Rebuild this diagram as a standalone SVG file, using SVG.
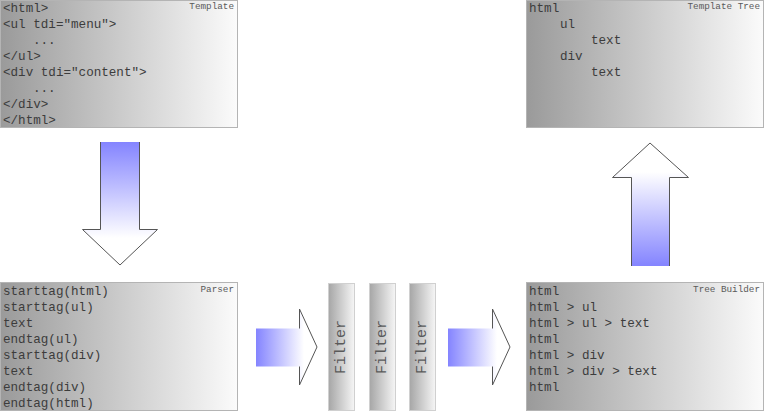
<svg xmlns="http://www.w3.org/2000/svg" width="764" height="411" viewBox="0 0 764 411">
<defs>
<linearGradient id="boxg" x1="0" y1="0" x2="1" y2="0">
<stop offset="0" stop-color="#9a9a9a"/>
<stop offset="1" stop-color="#fbfbfb"/>
</linearGradient>
<linearGradient id="filg" x1="0" y1="0" x2="1" y2="0">
<stop offset="0" stop-color="#a6a6a6"/>
<stop offset="1" stop-color="#f6f6f6"/>
</linearGradient>
<linearGradient id="downg" gradientUnits="userSpaceOnUse" x1="0" y1="142" x2="0" y2="238">
<stop offset="0" stop-color="#8484ff"/>
<stop offset="1" stop-color="#ffffff"/>
</linearGradient>
<linearGradient id="upg" gradientUnits="userSpaceOnUse" x1="0" y1="266" x2="0" y2="172">
<stop offset="0" stop-color="#8484ff"/>
<stop offset="1" stop-color="#ffffff"/>
</linearGradient>
<linearGradient id="r1g" gradientUnits="userSpaceOnUse" x1="256" y1="0" x2="304" y2="0">
<stop offset="0" stop-color="#8484ff"/>
<stop offset="1" stop-color="#ffffff"/>
</linearGradient>
<linearGradient id="r2g" gradientUnits="userSpaceOnUse" x1="448" y1="0" x2="497" y2="0">
<stop offset="0" stop-color="#8484ff"/>
<stop offset="1" stop-color="#ffffff"/>
</linearGradient>
</defs>
<style>
.box{fill:url(#boxg);stroke:#b4b4b4;stroke-width:1}
.fil{fill:url(#filg);stroke:#d0d0d0;stroke-width:1}
.t{font-family:"Liberation Mono","DejaVu Sans Mono",monospace;font-size:12.6px;fill:#3c3c3c}
.lbl{font-family:"Liberation Mono","DejaVu Sans Mono",monospace;font-size:9.3px;fill:#5a5a5a;text-anchor:end}
.ft{font-family:"Liberation Mono","DejaVu Sans Mono",monospace;font-size:15px;fill:#5a5a5a;text-anchor:middle}
.ol{fill:none;stroke:#555;stroke-width:1}
</style>

<g id="template">
<rect class="box" x="0.5" y="0.5" width="237" height="127"/>
<text class="lbl" x="234" y="9">Template</text>
<text class="t" x="3" y="12">&lt;html&gt;</text>
<text class="t" x="3" y="28">&lt;ul tdi="menu"&gt;</text>
<text class="t" x="33" y="44">...</text>
<text class="t" x="3" y="60">&lt;/ul&gt;</text>
<text class="t" x="3" y="76">&lt;div tdi="content"&gt;</text>
<text class="t" x="33" y="92">...</text>
<text class="t" x="3" y="108">&lt;/div&gt;</text>
<text class="t" x="3" y="124">&lt;/html&gt;</text>
</g>

<g id="parser">
<rect class="box" x="0.5" y="282.5" width="237" height="128"/>
<text class="lbl" x="234" y="292">Parser</text>
<text class="t" x="3" y="295">starttag(html)</text>
<text class="t" x="3" y="311">starttag(ul)</text>
<text class="t" x="3" y="327">text</text>
<text class="t" x="3" y="343">endtag(ul)</text>
<text class="t" x="3" y="359">starttag(div)</text>
<text class="t" x="3" y="375">text</text>
<text class="t" x="3" y="391">endtag(div)</text>
<text class="t" x="3" y="407">endtag(html)</text>
</g>

<g id="filter1">
<rect class="fil" x="328.5" y="283.5" width="26" height="127"/>
<text class="ft" transform="translate(345,347) rotate(-90)">Filter</text>
</g>
<g id="filter2">
<rect class="fil" x="369.5" y="283.5" width="26" height="127"/>
<text class="ft" transform="translate(386,347) rotate(-90)">Filter</text>
</g>
<g id="filter3">
<rect class="fil" x="409.5" y="283.5" width="26" height="127"/>
<text class="ft" transform="translate(426,347) rotate(-90)">Filter</text>
</g>

<g id="treebuilder">
<rect class="box" x="526.5" y="282.5" width="237" height="128"/>
<text class="lbl" x="760" y="292">Tree Builder</text>
<text class="t" x="529" y="295">html</text>
<text class="t" x="529" y="311">html &gt; ul</text>
<text class="t" x="529" y="327">html &gt; ul &gt; text</text>
<text class="t" x="529" y="343">html</text>
<text class="t" x="529" y="359">html &gt; div</text>
<text class="t" x="529" y="375">html &gt; div &gt; text</text>
<text class="t" x="529" y="391">html</text>
</g>

<g id="templatetree">
<rect class="box" x="526.5" y="0.5" width="237" height="127"/>
<text class="lbl" x="760" y="9">Template Tree</text>
<text class="t" x="529" y="12">html</text>
<text class="t" x="560" y="28">ul</text>
<text class="t" x="591" y="44">text</text>
<text class="t" x="560" y="60">div</text>
<text class="t" x="591" y="76">text</text>
</g>

<g id="connectors">
<g id="arrow-down">
<polygon points="100.5,142 139.5,142 139.5,229.5 157.5,229.5 120,265 82.5,229.5 100.5,229.5" fill="url(#downg)"/>
<polyline class="ol" points="100.5,142 100.5,229.5 82.5,229.5 120,265 157.5,229.5 139.5,229.5 139.5,142"/>
</g>
<g id="arrow-right1">
<polygon points="256,328.5 299.5,328.5 299.5,309 317,347 299.5,385 299.5,366.5 256,366.5" fill="url(#r1g)"/>
<polyline class="ol" points="299.5,328.5 299.5,309 317,347 299.5,385 299.5,366.5"/>
</g>
<g id="arrow-right2">
<polygon points="448,328.5 492.5,328.5 492.5,309 510,347 492.5,385 492.5,366.5 448,366.5" fill="url(#r2g)"/>
<polyline class="ol" points="492.5,328.5 492.5,309 510,347 492.5,385 492.5,366.5"/>
</g>
<g id="arrow-up">
<polygon points="631.5,266 631.5,177.5 612.5,177.5 650,143 688.5,177.5 669.5,177.5 669.5,266" fill="url(#upg)"/>
<polyline class="ol" points="631.5,266 631.5,177.5 612.5,177.5 650,143 688.5,177.5 669.5,177.5 669.5,266"/>
</g>
</g>
</svg>
